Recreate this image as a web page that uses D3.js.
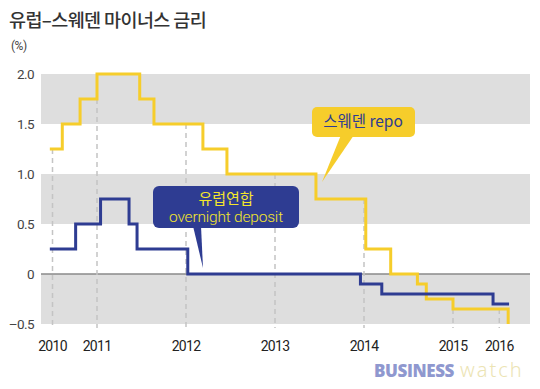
<!DOCTYPE html>
<html><head><meta charset="utf-8">
<script src="https://cdn.jsdelivr.net/npm/d3@7/dist/d3.min.js"></script>
<style>
html,body{margin:0;padding:0;background:#fff;}
svg{display:block;}
</style></head>
<body>
<script>
// ---- data (x positions in fractional years) ----
const swedenDates = [2010.47, 2010.61, 2010.81, 2011.0, 2011.48, 2011.64, 2012.19, 2012.46, 2013.46, 2014.02, 2014.30, 2014.60, 2014.70, 2015.0, 2015.62];
const swedenRates = [1.25, 1.5, 1.75, 2.0, 1.75, 1.5, 1.25, 1.0, 0.75, 0.25, 0, -0.1, -0.25, -0.35, -0.5];
const ecbDates = [2010.47, 2010.76, 2011.04, 2011.36, 2011.45, 2012.02, 2013.96, 2014.2, 2015.45, 2015.63];
const ecbRates = [0.25, 0.5, 0.75, 0.5, 0.25, 0, -0.1, -0.2, -0.3, -0.3];
const xTickValues = [2010.5, 2011, 2012, 2013, 2014, 2015, 2015.52];
const xTickLabels = ["2010", "2011", "2012", "2013", "2014", "2015", "2016"];
const yTickValues = [2.0, 1.5, 1.0, 0.5, 0, -0.5];
const yTickLabels = ["2.0", "1.5", "1.0", "0.5", "0", "\u20130.5"];
const bandRanges = [[1.5, 2.0], [0.5, 1.0], [-0.5, 0]];

const W = 540, H = 389;
const plotLeft = 41, plotRight = 530;
const x = d3.scaleLinear().domain([2010, 2016]).range([8, 542]);
const y = d3.scaleLinear().domain([-0.5, 2.0]).range([324, 74]);

const svg = d3.select("body").append("svg").attr("width", W).attr("height", H);
const font = "Roboto, 'Noto Sans CJK KR', sans-serif";

// title
svg.append("text").attr("x", 9).attr("y", 27)
  .attr("font-family", "'Noto Sans CJK KR', sans-serif").attr("font-size", 18.5).attr("font-weight", 500)
  .attr("fill", "#333").attr("letter-spacing", -0.6).text("유럽–스웨덴 마이너스 금리");
svg.append("text").attr("x", 11).attr("y", 50)
  .attr("font-family", font).attr("font-size", 12).attr("fill", "#444").attr("letter-spacing", -0.5).text("(%)");

// bands
svg.selectAll("rect.band").data(bandRanges).join("rect").attr("class", "band")
  .attr("x", plotLeft).attr("width", plotRight - plotLeft)
  .attr("y", d => y(d[1])).attr("height", d => y(d[0]) - y(d[1]))
  .attr("fill", "#dedede");

// y labels
svg.selectAll("text.ylab").data(yTickValues).join("text").attr("class", "ylab")
  .attr("x", 34).attr("y", d => y(d)).attr("dy", "0.36em").attr("text-anchor", "end")
  .attr("font-family", font).attr("font-size", 13.5).attr("fill", "#444").attr("letter-spacing", -0.6)
  .text((d, i) => yTickLabels[i]);

// zero line
svg.append("line").attr("x1", plotLeft).attr("x2", plotRight).attr("y1", y(0)).attr("y2", y(0))
  .attr("stroke", "#8a8a8a").attr("stroke-width", 1.6);

// dashed year lines from yellow line down
function stepVal(dates, vals, t) {
  let at = vals[0], before = vals[0];
  for (let i = 0; i < dates.length; i++) {
    if (dates[i] <= t) at = vals[i];
    if (dates[i] < t) before = vals[i];
  }
  return Math.min(at, before);
}
svg.selectAll("line.vdash").data(xTickValues).join("line").attr("class", "vdash")
  .attr("x1", d => x(d)).attr("x2", d => x(d))
  .attr("y1", d => y(stepVal(swedenDates, swedenRates, d)))
  .attr("y2", 328)
  .attr("stroke", "#c4c4c4").attr("stroke-width", 1.5).attr("stroke-dasharray", "5,4");

// x labels
svg.selectAll("text.xlab").data(xTickValues).join("text").attr("class", "xlab")
  .attr("x", d => x(d)).attr("y", 351).attr("text-anchor", "middle")
  .attr("font-family", font).attr("font-size", 14).attr("fill", "#222").attr("letter-spacing", -0.7)
  .text((d, i) => xTickLabels[i]);

// lines
const line = d3.line().x(d => x(d[0])).y(d => y(d[1])).curve(d3.curveStepAfter);
svg.append("path").datum(swedenDates.map((d, i) => [d, swedenRates[i]]))
  .attr("d", line).attr("fill", "none").attr("stroke", "#f6cd2b").attr("stroke-width", 3);
svg.append("path").datum(ecbDates.map((d, i) => [d, ecbRates[i]]))
  .attr("d", line).attr("fill", "none").attr("stroke", "#2e3c92").attr("stroke-width", 3);

// callout: ECB
svg.append("path").attr("d", "M193,226 L201,226 L203,268 Z").attr("fill", "#2e3c92");
svg.append("rect").attr("x", 153).attr("y", 186).attr("width", 146).attr("height", 42).attr("rx", 6)
  .attr("fill", "#2e3c92");
svg.append("text").attr("x", 226).attr("y", 204).attr("text-anchor", "middle")
  .attr("font-family", "'Noto Sans CJK KR', sans-serif").attr("font-size", 15).attr("fill", "#f4e62c")
  .text("유럽연합");
svg.append("text").attr("x", 226).attr("y", 222).attr("text-anchor", "middle")
  .attr("font-family", font).attr("font-size", 15.5).attr("font-weight", 300).attr("fill", "#f4e62c")
  .attr("letter-spacing", -0.2).text("overnight deposit");

// callout: Sweden
svg.append("path").attr("d", "M341,135 L354,135 L322,182 Z").attr("fill", "#f6cd2b");
svg.append("rect").attr("x", 312).attr("y", 107).attr("width", 103).attr("height", 30).attr("rx", 5)
  .attr("fill", "#f6cd2b");
svg.append("text").attr("x", 363).attr("y", 127).attr("text-anchor", "middle")
  .attr("font-family", "'Noto Sans CJK KR', sans-serif").attr("font-size", 15.5).attr("fill", "#2e3c92")
  .text("스웨덴 repo");

// logo
svg.append("text").attr("x", 374).attr("y", 377)
  .attr("font-family", "'Open Sans', sans-serif").attr("font-size", 17).attr("font-weight", 800)
  .attr("fill", "#8f98cf").attr("letter-spacing", -0.4).text("BUSINESS");
svg.append("text").attr("x", 460).attr("y", 377)
  .attr("font-family", "'Noto Sans', sans-serif").attr("font-size", 20).attr("font-weight", 300)
  .attr("fill", "#ece4b4").attr("letter-spacing", 2).text("watch");
</script>
</body></html>
